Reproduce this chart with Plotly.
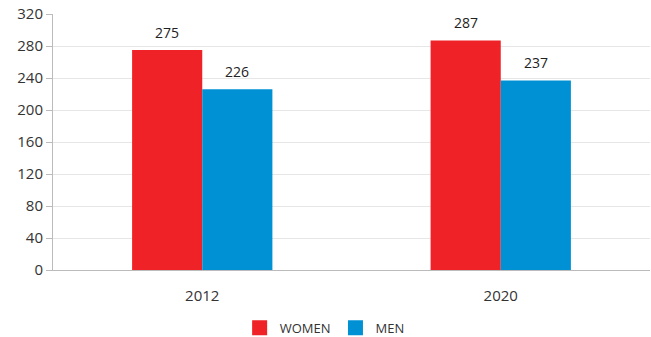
import plotly.graph_objects as go

years = ["2012", "2020"]
women = [275, 287]
men = [226, 237]
y_ticks = [0, 40, 80, 120, 160, 200, 240, 280, 320]

RED = "#EE2227"
BLUE = "#0091D5"
FONT = "Open Sans"

series = [("WOMEN", women, RED, -35), ("MEN", men, BLUE, 35)]

fig = go.Figure()
for name, vals, color, shift in series:
    fig.add_trace(go.Bar(
        x=years, y=vals, name=name, showlegend=False,
        marker=dict(color=color, line=dict(width=0)),
    ))
    # value labels above each bar (category index on the x axis)
    for i, v in enumerate(vals):
        fig.add_annotation(x=i, y=v, text=str(v), showarrow=False,
                           xshift=shift, yshift=6, yanchor="bottom",
                           font=dict(family=FONT, size=14, color="#222"))

# legend entries with larger square swatches
for name, vals, color, shift in series:
    fig.add_trace(go.Scatter(
        x=[years[0]], y=[None], mode="markers", name=name,
        marker=dict(symbol="square", size=15, color=color),
    ))

fig.update_layout(
    width=651, height=337,
    margin=dict(l=53, r=1, t=14, b=67, autoexpand=False),
    paper_bgcolor="white", plot_bgcolor="white",
    barmode="group", bargap=0.53, bargroupgap=0,
    font=dict(family=FONT, size=15, color="#333"),
    showlegend=True,
    legend=dict(orientation="h", x=0.455, xanchor="center",
                yref="container", y=0.027, yanchor="middle",
                font=dict(family=FONT, size=13, color="#333"),
                itemwidth=30, tracegroupgap=0),
    xaxis=dict(type="category", categoryorder="array", categoryarray=years,
               range=[-0.5, 1.5], showline=True, linecolor="#bbb", linewidth=1,
               ticks="", ticklabelstandoff=12, tickfont=dict(size=15, color="#333")),
    yaxis=dict(range=[0, 320], tickvals=y_ticks, showgrid=True, gridcolor="#e6e6e6",
               showline=True, linecolor="#bbb", linewidth=1,
               ticks="outside", ticklen=6, tickcolor="#bbb",
               zeroline=False, tickfont=dict(size=15, color="#333")),
)

fig.write_html("out.html")
